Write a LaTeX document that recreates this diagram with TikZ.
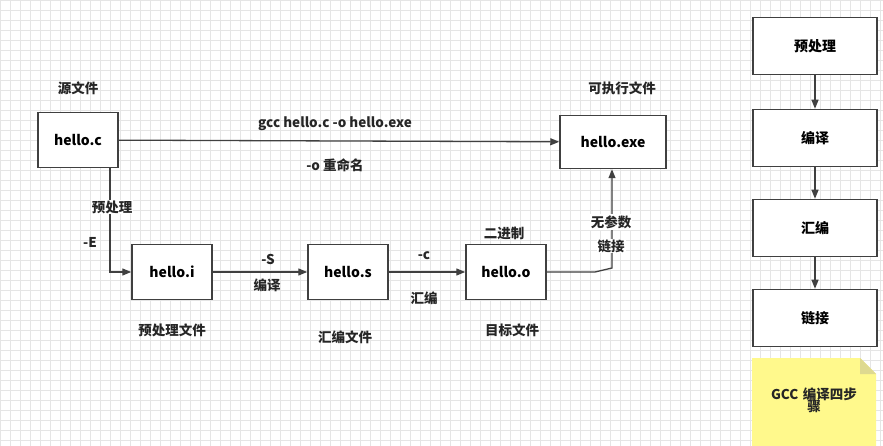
\documentclass[tikz,border=0pt]{standalone}
\usepackage{fontspec}
\setmainfont{Noto Sans CJK SC}
\usetikzlibrary{arrows.meta}
\begin{document}
\begin{tikzpicture}[x=1pt,y=-1pt,
  box/.style={draw=black!75,line width=1.5pt,fill=white,minimum width=80pt,minimum height=55pt,font=\bfseries\fontsize{14}{16}\selectfont},
  rbox/.style={box,minimum width=124pt,minimum height=57pt},
  lbl/.style={font=\bfseries\fontsize{13.5}{16}\selectfont,text=black!85},
  wl/.style={lbl,fill=white,inner sep=1pt},
  con/.style={draw=black!75,line width=1.3pt,-{Triangle[length=9pt,width=7pt]}}]
\useasboundingbox (0,0) rectangle (883,446);
\fill[white] (0,0) rectangle (883,446);
\draw[black!10,line width=0.5pt,step=10pt] (0,0) grid (883,446);
\node[box] (c) at (78,140) {hello.c};
\node[box,minimum width=106pt,minimum height=53pt] (exe) at (613,142) {hello.exe};
\node[box] (i) at (172,272) {hello.i};
\node[box] (s) at (348,272) {hello.s};
\node[box] (o) at (506,272) {hello.o};
\node[rbox] (r1) at (815,46) {预处理};
\node[rbox] (r2) at (815,138) {编译};
\node[rbox] (r3) at (815,228) {汇编};
\node[rbox] (r4) at (815,318) {链接};
\fill[yellow!45] (752,358) -- (860,358) -- (876,374) -- (876,446) -- (752,446) -- cycle;
\fill[yellow!70!black!50] (860,358) -- (876,374) -- (860,374) -- cycle;
\node[lbl,align=center,text width=112pt] (note) at (814,400) {GCC 编译四步\\[-4pt]骤};
\draw[con] (c) -- (exe);
\draw[con] (c.south -| 110,0) |- (i);
\draw[con] (i) -- (s);
\draw[con] (s) -- (o);
\draw[con] (o.east) -- (595,272) -- (612,268) -- (exe.south -| 612,0);
\draw[con] (r1) -- (r2);
\draw[con] (r2) -- (r3);
\draw[con] (r3) -- (r4);
\node[wl] (l1) at (112,207) {预处理};
\node[lbl] (l2) at (90,242) {-E};
\node[lbl] (l3) at (78,88) {源文件};
\node[lbl] (l4) at (622,88) {可执行文件};
\node[lbl] (l5) at (335,124) {gcc hello.c -o hello.exe};
\node[lbl] (l6) at (335,165) {-o 重命名};
\node[lbl] (l7) at (268,259) {-S};
\node[lbl] (l8) at (267,285) {编译};
\node[lbl] (l9) at (424,256) {-c};
\node[lbl] (l10) at (424,298) {汇编};
\node[lbl] (l11) at (504,233) {二进制};
\node[wl] (l12) at (611,222) {无参数};
\node[wl] (l13) at (611,246) {链接};
\node[lbl] (l14) at (172,330) {预处理文件};
\node[lbl] (l15) at (345,337) {汇编文件};
\node[lbl] (l16) at (512,330) {目标文件};
\end{tikzpicture}
\end{document}
